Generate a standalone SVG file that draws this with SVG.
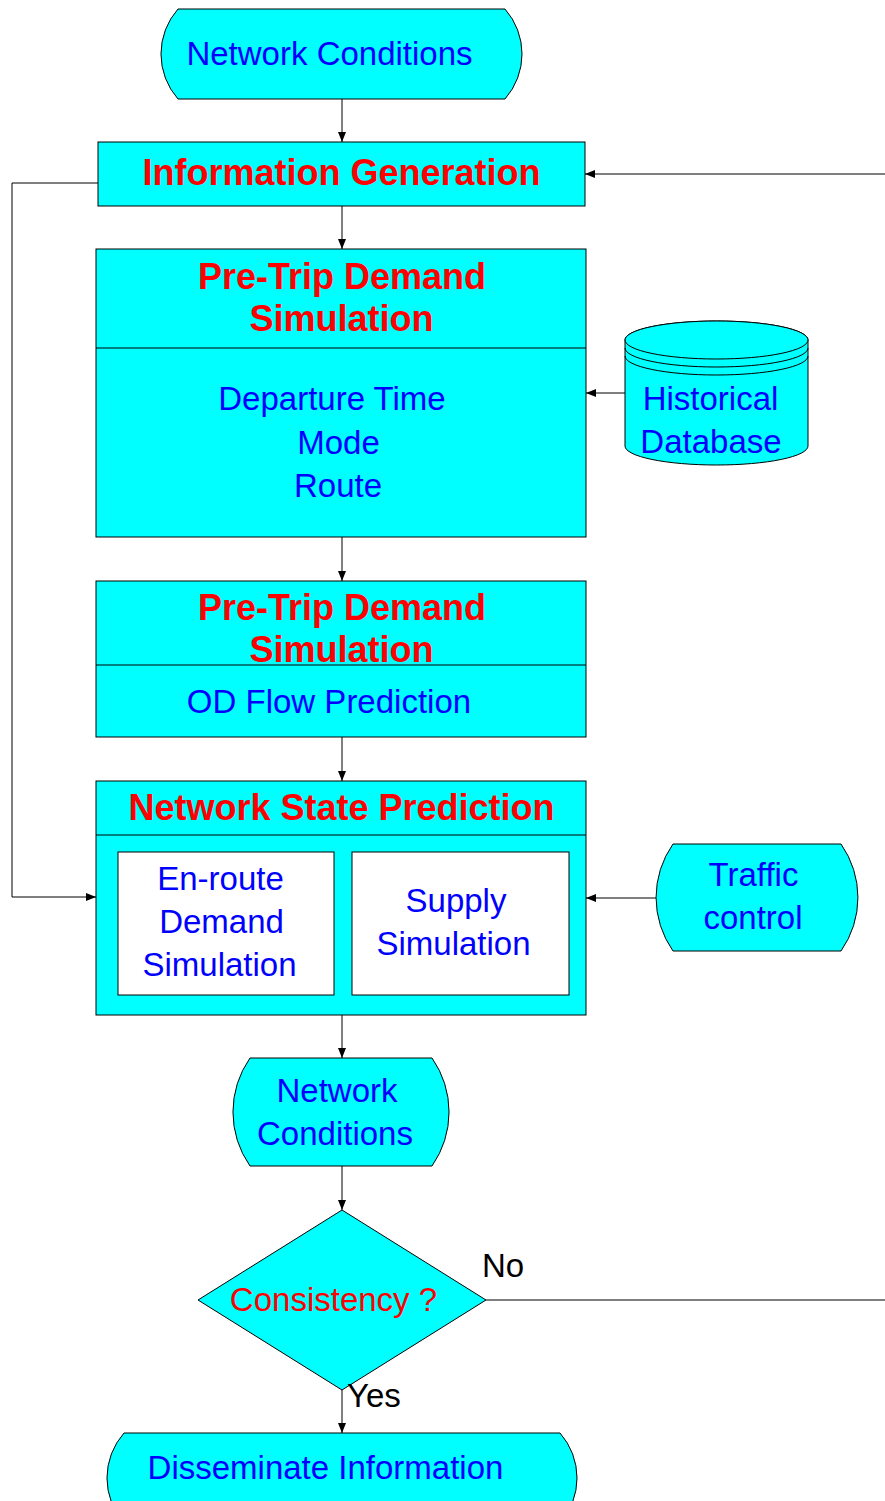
<svg xmlns="http://www.w3.org/2000/svg" width="885" height="1501" viewBox="0 0 885 1501">
<style>
.shape{fill:#00FFFF;stroke:#000;stroke-width:1}
.inner{fill:#fff;stroke:#000;stroke-width:1}
.t{font-family:"Liberation Sans",Arial,sans-serif;font-size:33px;fill:#0000FF;text-anchor:middle}
.b{font-family:"Liberation Sans",Arial,sans-serif;font-size:36px;font-weight:bold;fill:#FF0000;text-anchor:middle}
.r{font-family:"Liberation Sans",Arial,sans-serif;font-size:33px;fill:#FF0000;text-anchor:middle}
.k{font-family:"Liberation Sans",Arial,sans-serif;font-size:33px;fill:#000}
.c{fill:none;stroke:#000;stroke-width:1}
</style>
<defs>
<marker id="ah" markerUnits="userSpaceOnUse" markerWidth="10" markerHeight="10" viewBox="0 0 10 10" refX="10" refY="5" orient="auto">
<path d="M0,1 L10,5 L0,9 Z" fill="#000"/>
</marker>
</defs>

<g id="connectors">
<line class="c" x1="342" y1="99" x2="342" y2="142" marker-end="url(#ah)"/>
<line class="c" x1="342" y1="206" x2="342" y2="249" marker-end="url(#ah)"/>
<line class="c" x1="342" y1="537" x2="342" y2="581" marker-end="url(#ah)"/>
<line class="c" x1="342" y1="737" x2="342" y2="781" marker-end="url(#ah)"/>
<line class="c" x1="342" y1="1015" x2="342" y2="1058" marker-end="url(#ah)"/>
<line class="c" x1="342" y1="1166" x2="342" y2="1210" marker-end="url(#ah)"/>
<line class="c" x1="342" y1="1390" x2="342" y2="1433" marker-end="url(#ah)"/>
<polyline class="c" points="98,183 12,183 12,897 96,897" marker-end="url(#ah)"/>
<line class="c" x1="885" y1="174" x2="585" y2="174" marker-end="url(#ah)"/>
<line class="c" x1="486" y1="1300" x2="885" y2="1300"/>
<line class="c" x1="625" y1="393" x2="586" y2="393" marker-end="url(#ah)"/>
<line class="c" x1="656" y1="898" x2="586" y2="898" marker-end="url(#ah)"/>
</g>

<g id="network-conditions-1">
<path class="shape" d="M178,9 L505,9 A68,68 0 0 1 505,99 L178,99 A68,68 0 0 1 178,9 Z"/>
<text class="t" x="329.5" y="65">Network Conditions</text>
</g>

<g id="information-generation">
<rect class="shape" x="98" y="142" width="487" height="64"/>
<text class="b" x="341.5" y="185">Information Generation</text>
</g>

<g id="pretrip-1">
<rect class="shape" x="96" y="249" width="490" height="288"/>
<line class="c" x1="96" y1="348" x2="586" y2="348"/>
<text class="b" x="342" y="289">Pre-Trip Demand</text>
<text class="b" x="341.5" y="331">Simulation</text>
<text class="t" x="332" y="410">Departure Time</text>
<text class="t" x="338.5" y="454">Mode</text>
<text class="t" x="338" y="497">Route</text>
</g>

<g id="historical-database">
<path class="shape" d="M625,340 L625,446 A91.5,19 0 0 0 808,446 L808,340 A91.5,19 0 0 0 625,340 Z"/>
<ellipse class="shape" cx="716.5" cy="340" rx="91.5" ry="19"/>
<path class="c" d="M625,348 A91.5,19 0 0 0 808,348"/>
<path class="c" d="M625,356 A91.5,19 0 0 0 808,356"/>
<text class="t" x="710.5" y="410">Historical</text>
<text class="t" x="711" y="453">Database</text>
</g>

<g id="pretrip-2">
<rect class="shape" x="96" y="581" width="490" height="156"/>
<line class="c" x1="96" y1="665" x2="586" y2="665"/>
<text class="b" x="342" y="620">Pre-Trip Demand</text>
<text class="b" x="341.5" y="662">Simulation</text>
<text class="t" x="329" y="713">OD Flow Prediction</text>
</g>

<g id="network-state-prediction">
<rect class="shape" x="96" y="781" width="490" height="234"/>
<line class="c" x1="96" y1="835" x2="586" y2="835"/>
<text class="b" x="341.5" y="820">Network State Prediction</text>
<g id="enroute-demand">
<rect class="inner" x="118" y="852" width="216" height="143"/>
<text class="t" x="220.5" y="890">En-route</text>
<text class="t" x="221.5" y="933">Demand</text>
<text class="t" x="219.5" y="976">Simulation</text>
</g>
<g id="supply-simulation">
<rect class="inner" x="352" y="852" width="217" height="143"/>
<text class="t" x="456" y="912">Supply</text>
<text class="t" x="453.5" y="955">Simulation</text>
</g>
</g>

<g id="traffic-control">
<path class="shape" d="M673,844 L841,844 A93,93 0 0 1 841,951 L673,951 A93,93 0 0 1 673,844 Z"/>
<text class="t" x="753.5" y="886">Traffic</text>
<text class="t" x="753" y="929">control</text>
</g>

<g id="network-conditions-2">
<path class="shape" d="M250,1058 L432,1058 A94,94 0 0 1 432,1166 L250,1166 A94,94 0 0 1 250,1058 Z"/>
<text class="t" x="337" y="1102">Network</text>
<text class="t" x="335" y="1145">Conditions</text>
</g>

<g id="consistency">
<polygon class="shape" points="342,1210 486,1300 342,1390 198,1300"/>
<text class="r" x="333.5" y="1311">Consistency ?</text>
<text class="k" x="482" y="1277">No</text>
<text class="k" x="347" y="1407">Yes</text>
</g>

<g id="disseminate-information">
<path class="shape" d="M124,1433 L560,1433 A68,68 0 0 1 560,1523 L124,1523 A68,68 0 0 1 124,1433 Z"/>
<text class="t" x="325.5" y="1479">Disseminate Information</text>
</g>
</svg>
